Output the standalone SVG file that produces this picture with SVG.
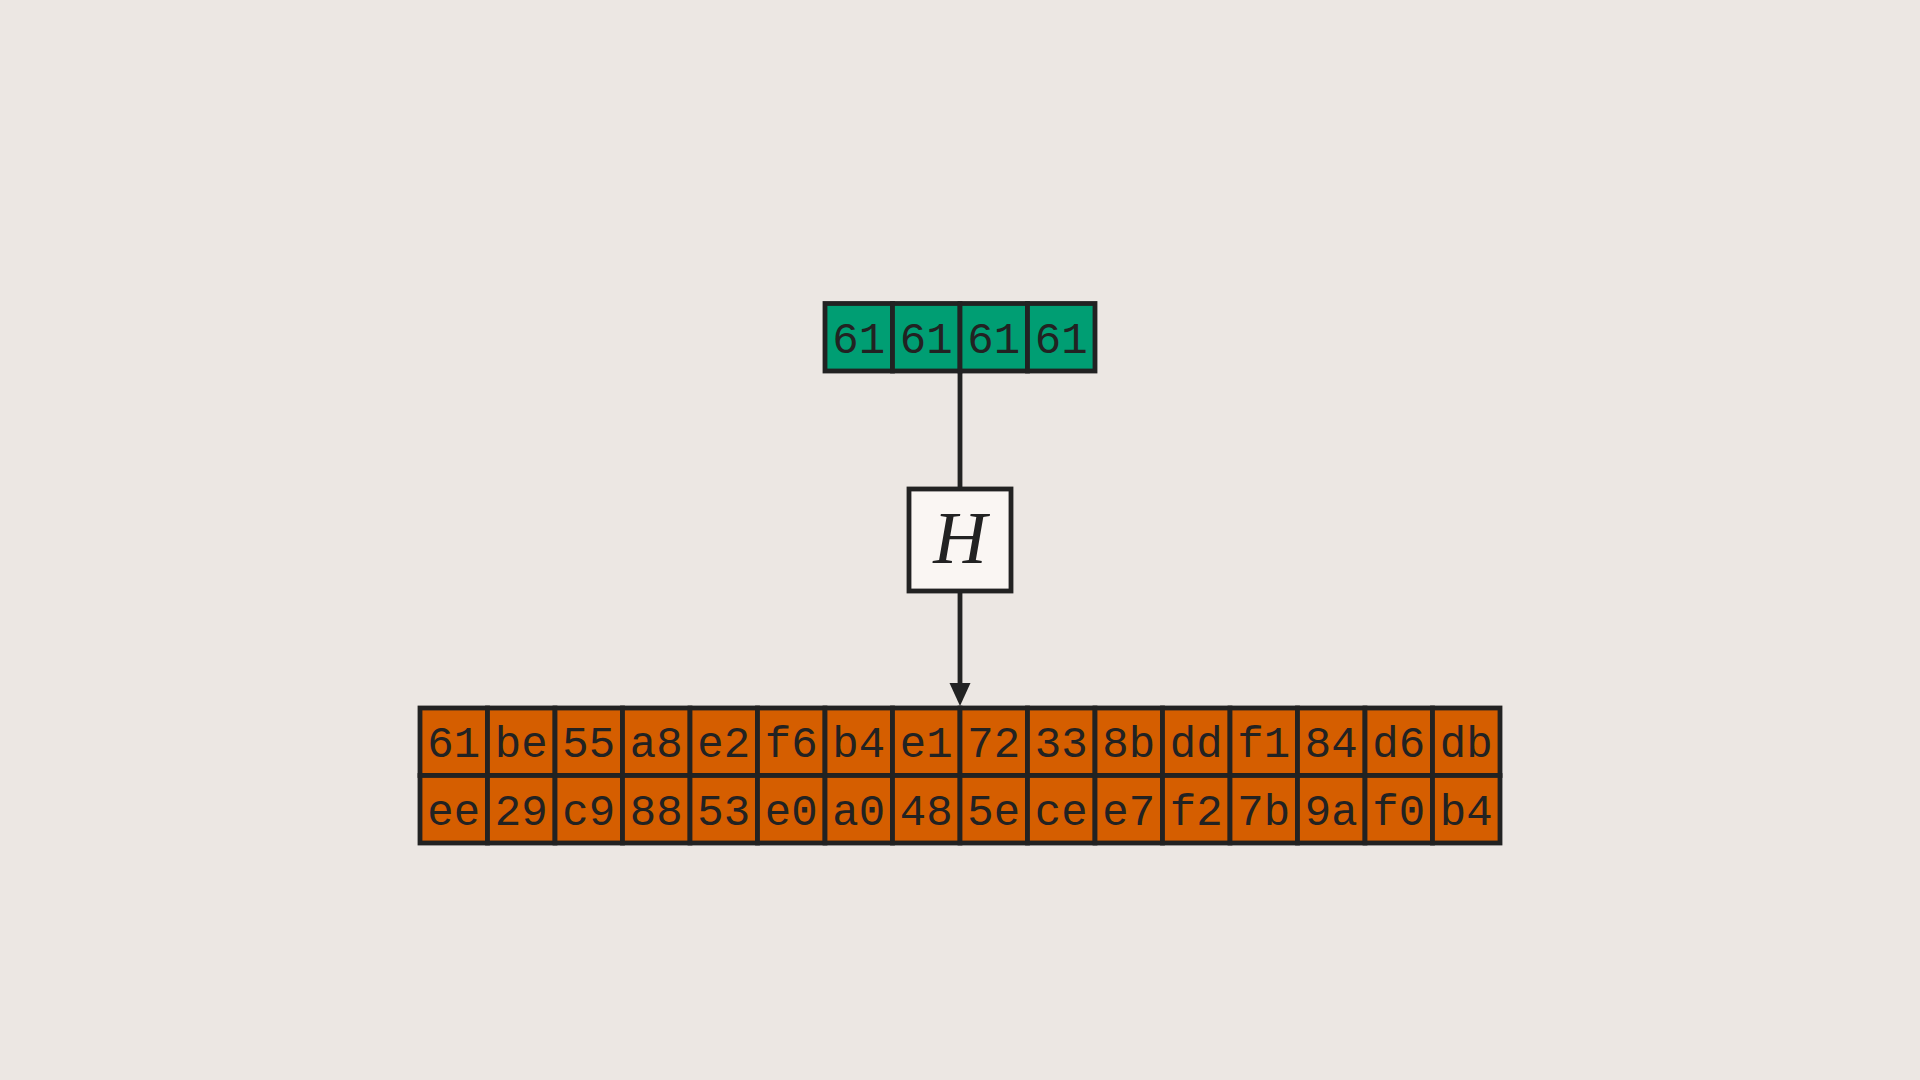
<svg xmlns="http://www.w3.org/2000/svg" width="1920" height="1080" viewBox="0 0 1920 1080">
<style>
.bg{fill:#ECE7E3}
.c{stroke:#222222;stroke-width:4.8}
.g{fill:#009E73}
.o{fill:#D55E00}
.t{font-family:"Liberation Mono","DejaVu Sans Mono",monospace;font-size:44px;fill:#222222;text-anchor:middle}
.h{font-family:"Liberation Serif","DejaVu Serif",serif;font-style:italic;font-size:74px;fill:#222222;text-anchor:middle}
.ln{stroke:#222222;stroke-width:4.8;fill:none}
</style>
<rect class="bg" x="0" y="0" width="1920" height="1080"/>
<g id="connectors">
<line class="ln" x1="960" y1="371" x2="960" y2="489"/>
<line class="ln" x1="960" y1="591" x2="960" y2="686"/>
<polygon points="949.5,683 970.5,683 960,706" fill="#222222"/>
</g>
<g id="input">
<g class="c g">
<rect x="825" y="303.5" width="67.5" height="67.5"/>
<rect x="892.5" y="303.5" width="67.5" height="67.5"/>
<rect x="960" y="303.5" width="67.5" height="67.5"/>
<rect x="1027.5" y="303.5" width="67.5" height="67.5"/>
</g>
<text class="t" x="858.75" y="353">61</text>
<text class="t" x="926.25" y="353">61</text>
<text class="t" x="993.75" y="353">61</text>
<text class="t" x="1061.25" y="353">61</text>
</g>
<g id="hash">
<rect x="909" y="489" width="102" height="102" fill="#FAF6F3" stroke="#222222" stroke-width="4.8"/>
<text class="h" x="960" y="563">H</text>
</g>
<g id="output">
<g class="c o">
<rect x="420" y="708" width="67.5" height="67.5"/>
<rect x="487.5" y="708" width="67.5" height="67.5"/>
<rect x="555" y="708" width="67.5" height="67.5"/>
<rect x="622.5" y="708" width="67.5" height="67.5"/>
<rect x="690" y="708" width="67.5" height="67.5"/>
<rect x="757.5" y="708" width="67.5" height="67.5"/>
<rect x="825" y="708" width="67.5" height="67.5"/>
<rect x="892.5" y="708" width="67.5" height="67.5"/>
<rect x="960" y="708" width="67.5" height="67.5"/>
<rect x="1027.5" y="708" width="67.5" height="67.5"/>
<rect x="1095" y="708" width="67.5" height="67.5"/>
<rect x="1162.5" y="708" width="67.5" height="67.5"/>
<rect x="1230" y="708" width="67.5" height="67.5"/>
<rect x="1297.5" y="708" width="67.5" height="67.5"/>
<rect x="1365" y="708" width="67.5" height="67.5"/>
<rect x="1432.5" y="708" width="67.5" height="67.5"/>
<rect x="420" y="775.5" width="67.5" height="67.5"/>
<rect x="487.5" y="775.5" width="67.5" height="67.5"/>
<rect x="555" y="775.5" width="67.5" height="67.5"/>
<rect x="622.5" y="775.5" width="67.5" height="67.5"/>
<rect x="690" y="775.5" width="67.5" height="67.5"/>
<rect x="757.5" y="775.5" width="67.5" height="67.5"/>
<rect x="825" y="775.5" width="67.5" height="67.5"/>
<rect x="892.5" y="775.5" width="67.5" height="67.5"/>
<rect x="960" y="775.5" width="67.5" height="67.5"/>
<rect x="1027.5" y="775.5" width="67.5" height="67.5"/>
<rect x="1095" y="775.5" width="67.5" height="67.5"/>
<rect x="1162.5" y="775.5" width="67.5" height="67.5"/>
<rect x="1230" y="775.5" width="67.5" height="67.5"/>
<rect x="1297.5" y="775.5" width="67.5" height="67.5"/>
<rect x="1365" y="775.5" width="67.5" height="67.5"/>
<rect x="1432.5" y="775.5" width="67.5" height="67.5"/>
</g>
<text class="t" x="453.75" y="757">61</text>
<text class="t" x="521.25" y="757">be</text>
<text class="t" x="588.75" y="757">55</text>
<text class="t" x="656.25" y="757">a8</text>
<text class="t" x="723.75" y="757">e2</text>
<text class="t" x="791.25" y="757">f6</text>
<text class="t" x="858.75" y="757">b4</text>
<text class="t" x="926.25" y="757">e1</text>
<text class="t" x="993.75" y="757">72</text>
<text class="t" x="1061.25" y="757">33</text>
<text class="t" x="1128.75" y="757">8b</text>
<text class="t" x="1196.25" y="757">dd</text>
<text class="t" x="1263.75" y="757">f1</text>
<text class="t" x="1331.25" y="757">84</text>
<text class="t" x="1398.75" y="757">d6</text>
<text class="t" x="1466.25" y="757">db</text>
<text class="t" x="453.75" y="824.5">ee</text>
<text class="t" x="521.25" y="824.5">29</text>
<text class="t" x="588.75" y="824.5">c9</text>
<text class="t" x="656.25" y="824.5">88</text>
<text class="t" x="723.75" y="824.5">53</text>
<text class="t" x="791.25" y="824.5">e0</text>
<text class="t" x="858.75" y="824.5">a0</text>
<text class="t" x="926.25" y="824.5">48</text>
<text class="t" x="993.75" y="824.5">5e</text>
<text class="t" x="1061.25" y="824.5">ce</text>
<text class="t" x="1128.75" y="824.5">e7</text>
<text class="t" x="1196.25" y="824.5">f2</text>
<text class="t" x="1263.75" y="824.5">7b</text>
<text class="t" x="1331.25" y="824.5">9a</text>
<text class="t" x="1398.75" y="824.5">f0</text>
<text class="t" x="1466.25" y="824.5">b4</text>
</g>
</svg>
